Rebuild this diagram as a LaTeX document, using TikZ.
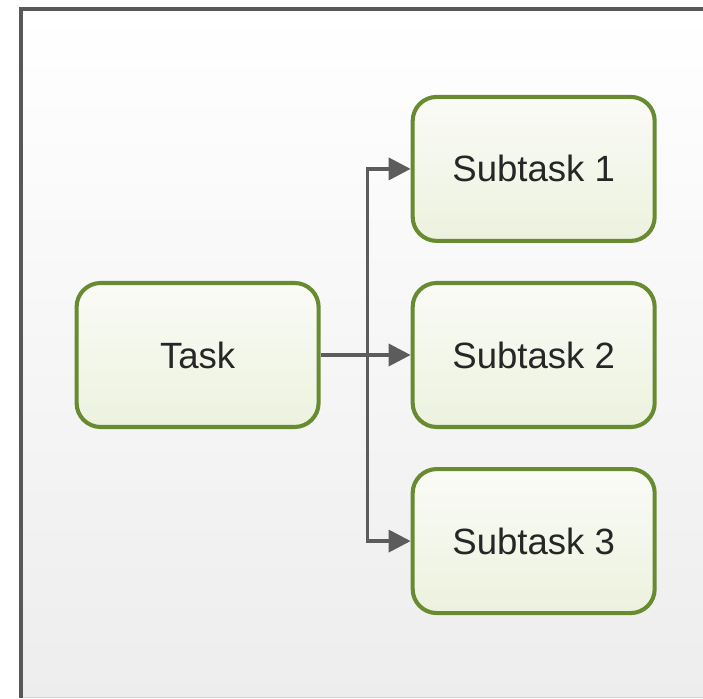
\documentclass[tikz,border=0pt]{standalone}
\usepackage{fontspec}
\setmainfont{Liberation Sans}
\usetikzlibrary{positioning,arrows.meta}
\definecolor{boxline}{RGB}{104,138,48}
\definecolor{boxtop}{RGB}{250,251,246}
\definecolor{boxbottom}{RGB}{236,242,222}
\definecolor{connline}{RGB}{92,92,92}
\definecolor{frameline}{RGB}{88,88,88}
\begin{document}
\begin{tikzpicture}[
    taskbox/.style={draw=boxline, line width=2.9pt, rounded corners=0.6cm,
        top color=boxtop, bottom color=boxbottom,
        minimum width=6.05cm, minimum height=3.6cm, text=black!85,
        font=\fontsize{26}{30}\selectfont},
    conn/.style={draw=connline, line width=2.6pt,
        -{Triangle[length=0.55cm,width=0.55cm]}}
    ]
    \useasboundingbox (0,0) rectangle (17.575,17.475);
    \shade[top color=white, bottom color=black!7] (0.525,0.05) rectangle (17.575,17.25);
    \draw[black!18, line width=1pt] (0.525,0.03) -- (17.575,0.03);
    \draw[frameline, line width=2.8pt] (0.525,0.03) -- (0.525,17.25) -- (17.575,17.25);

    \node[taskbox] (task) at (4.94,8.6) {Task};
    \node[taskbox, right=2.25cm of task] (sub2) {Subtask 2};
    \node[taskbox, above=0.95cm of sub2] (sub1) {Subtask 1};
    \node[taskbox, below=0.95cm of sub2] (sub3) {Subtask 3};
    \coordinate[right=1.175cm of task.east] (fork);

    \draw[conn] (task.east) -- (fork) |- (sub1.west);
    \draw[conn] (task.east) -- (sub2.west);
    \draw[conn] (task.east) -- (fork) |- (sub3.west);
\end{tikzpicture}
\end{document}
